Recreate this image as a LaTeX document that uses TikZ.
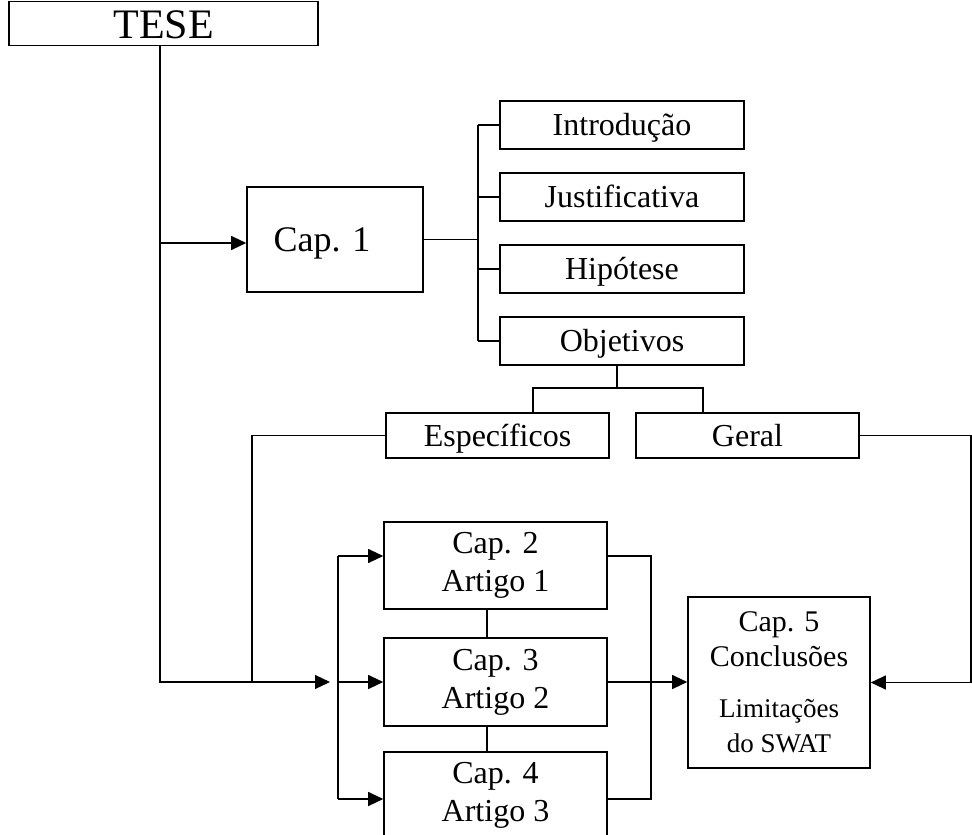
\documentclass[tikz,border=0pt]{standalone}
\usepackage{fontspec}
\setmainfont{Liberation Serif}
\usetikzlibrary{arrows.meta}
\begin{document}
\begin{tikzpicture}[x=1pt,y=-1pt,
 box/.style={draw,line width=1.6pt,rectangle,inner sep=0pt,align=center,font=\fontsize{32}{38}\selectfont},
 one/.style={text height=26pt,text depth=5pt},
 conn/.style={line width=1.1pt},
 arr/.style={conn,-{Triangle[length=15pt,width=14pt]}},
]
\useasboundingbox (0,0) rectangle (972,835);
% boxes
\node[box,minimum width=309pt,minimum height=44pt,font=\fontsize{42}{48}\selectfont,text height=34pt,text depth=5pt] (tese) at (163.5,23.5) {TESE};
\node[box,minimum width=176pt,minimum height=105pt,font=\fontsize{36}{42}\selectfont,text height=29pt,text depth=5pt] (cap1) at (335,239.5) {\kern-13pt Cap. 1\kern13pt};
\node[box,one,minimum width=244pt,minimum height=48pt] (intro) at (622,125) {Introdução};
\node[box,one,minimum width=244pt,minimum height=48pt] (just) at (622,197) {Justificativa};
\node[box,one,minimum width=244pt,minimum height=48pt] (hip) at (622,269) {Hipótese};
\node[box,one,minimum width=244pt,minimum height=48pt] (obj) at (622,341) {Objetivos};
\node[box,one,minimum width=223pt,minimum height=45pt] (espec) at (497.5,435.5) {Específicos};
\node[box,one,minimum width=223pt,minimum height=45pt] (geral) at (747.5,435.5) {Geral};
\node[box,minimum width=223pt,minimum height=87pt] (cap2) at (495.5,565.5) {Cap. 2\\Artigo 1};
\node[box,minimum width=223pt,minimum height=88pt] (cap3) at (495.5,682) {Cap. 3\\Artigo 2};
\node[box,minimum width=223pt,minimum height=87pt] (cap4) at (495.5,795.5) {Cap. 4\\Artigo 3};
\node[box,minimum width=182pt,minimum height=171pt,font=\fontsize{30}{35}\selectfont] (cap5) at (779,682.5)
  {Cap. 5\\Conclusões\\[16pt]{\fontsize{27}{32}\selectfont Limitações}\\{\fontsize{27}{32}\selectfont do SWAT}};
% helper coordinates
\coordinate (S) at (160,0);
\coordinate (M) at (330,682);
\coordinate (E) at (252,682);
\coordinate (C1) at (160,243);
\coordinate (B) at (478,0);
\coordinate (O) at (617,388);
\coordinate (OL) at (533,388);
\coordinate (OR) at (703,388);
\coordinate (R) at (971,0);
\coordinate (L2) at (338,556);
\coordinate (L3) at (338,682);
\coordinate (L4) at (338,799);
\coordinate (R2) at (651,556);
\coordinate (R4) at (651,799);
\coordinate (V) at (487,0);
% connectors
\draw[arr] (tese.south -| S) |- (M);
\draw[arr] (C1) -- (C1 -| cap1.west);
\draw[conn] (espec.west) -| (E);
\draw[conn] (cap1.east) -- (cap1.east -| B);
\draw[conn] (intro.west -| B) -- (obj.west -| B);
\draw[conn] (intro.west -| B) -- (intro.west);
\draw[conn] (just.west -| B) -- (just.west);
\draw[conn] (hip.west -| B) -- (hip.west);
\draw[conn] (obj.west -| B) -- (obj.west);
\draw[conn] (obj.south -| O) -- (O);
\draw[conn] (OL |- espec.north) -- (OL) -- (OR) -- (OR |- geral.north);
\draw[arr] (geral.east) -| (R |- cap5.east) -- (cap5.east);
\draw[conn] (L2) -- (L4);
\draw[arr] (L2) -- (L2 -| cap2.west);
\draw[arr] (L3) -- (L3 -| cap3.west);
\draw[arr] (L4) -- (L4 -| cap4.west);
\draw[conn] (R2 -| cap2.east) -- (R2) -- (R4) -- (R4 -| cap4.east);
\draw[arr] (cap3.east) -- (cap3.east -| cap5.west);
\draw[conn] (cap2.south -| V) -- (cap3.north -| V);
\draw[conn] (cap3.south -| V) -- (cap4.north -| V);
\end{tikzpicture}
\end{document}
